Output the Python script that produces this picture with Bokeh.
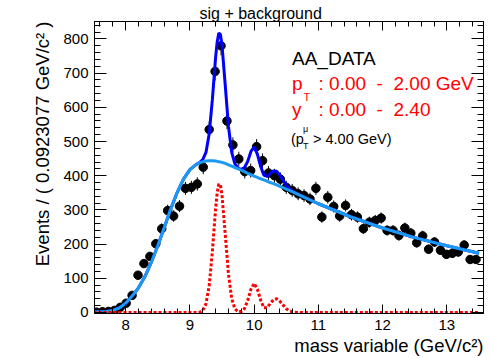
import math
from bokeh.plotting import figure
from bokeh.models import (Range1d, LinearAxis, SingleIntervalTicker, Label, ColumnDataSource,
                          CustomJSTickFormatter, Title)
from bokeh.embed import file_html
from bokeh.resources import INLINE

# ---------------- data ----------------
bin_low = 7.5
bin_width = 0.0923077
counts = [1, 2, 3, 6, 15, 27, 50, 109, 143, 164,
          201, 245, 298, 282, 311, 363, 366, 376, 425, 535,
          705, 780, 560, 490, 449, 412, 415, 485, 444, 408,
          400, 390, 366, 357, 347, 342, 332, 363, 279, 337,
          310, 282, 313, 286, 279, 245, 264, 269, 276, 240,
          240, 225, 247, 232, 204, 224, 185, 206, 182, 170,
          173, 177, 197, 155, 155]

curve_x = [7.5, 7.6, 7.7, 7.8, 7.9, 8.0, 8.1, 8.2, 8.3, 8.4, 8.5, 8.6, 8.7, 8.8, 8.9,
           9.0, 9.1, 9.15, 9.2, 9.25, 9.3, 9.35, 9.4, 9.425, 9.45, 9.475, 9.5, 9.55,
           9.6, 9.65, 9.7, 9.75, 9.8, 9.85, 9.9, 9.95, 10.0, 10.05, 10.1, 10.15, 10.2,
           10.25, 10.3, 10.35, 10.4, 10.45, 10.5, 10.55, 10.6, 10.7, 10.8, 11.0, 11.5,
           12.0, 12.5, 13.0, 13.5]
background = [1, 2, 3, 6, 13, 27, 48, 72, 105, 147, 195, 248, 302, 350, 390,
              418, 433, 438, 441, 443, 444, 444, 443, 442, 441, 440, 439, 436,
              432, 428, 424, 420, 416, 412, 407, 403, 399, 395, 391, 388, 384,
              380, 377, 373, 369, 365, 361, 357, 353, 344, 335, 318, 280,
              247, 219, 195, 173]
signal = [0, 0, 0, 0, 0, 0, 0, 0, 0, 0, 0, 0, 0, 0, 0,
          0, 0, 0.3, 6, 25, 78, 179, 303, 350, 376, 373, 342, 229,
          113, 41, 11, 2, 2.7, 11.5, 35, 68, 85, 68, 37, 14, 14,
          26, 37, 40, 33, 22, 11, 4.4, 1.4, 0, 0, 0, 0,
          0, 0, 0, 0]

x_ticks_major = 1
y_ticks_major = 100

# ---------------- layout ----------------
W, H = 493, 358
FL, FR, FT, FB = 94, 483, 21, 313
X0, X1 = 7.515, 13.57
Y0, Y1 = -3, 851


def dx(px):
    return X0 + (px - FL) * (X1 - X0) / (FR - FL)


def dy(py):
    return Y1 - (py - FT) * (Y1 - Y0) / (FB - FT)


FONT = "Liberation Sans"

p = figure(width=W, height=H, output_backend="svg", toolbar_location=None,
           x_range=Range1d(X0, X1), y_range=Range1d(Y0, Y1),
           min_border_left=FL, min_border_right=W - FR,
           min_border_top=FT, min_border_bottom=H - FB,
           background_fill_color="white", border_fill_color="white")
p.xgrid.visible = False
p.ygrid.visible = False
p.outline_line_color = "black"
p.outline_line_width = 1

p.title.text = "sig + background"
p.title.align = "left"
p.title.offset = 105
p.title.text_font = FONT
p.title.text_font_size = "16px"
p.title.text_font_style = "normal"
p.title.text_color = "black"
p.title.standoff = 0

xt = SingleIntervalTicker(interval=x_ticks_major, num_minor_ticks=5)
yt = SingleIntervalTicker(interval=y_ticks_major, num_minor_ticks=5)


def style_axis(ax, tin, tmin, show_labels):
    ax.axis_line_color = "black"
    ax.major_tick_line_color = "black"
    ax.minor_tick_line_color = "black"
    ax.major_tick_in = tin
    ax.major_tick_out = 0
    ax.minor_tick_in = tmin
    ax.minor_tick_out = 0
    ax.major_label_text_font = FONT
    ax.major_label_text_color = "black"
    if show_labels:
        ax.major_label_text_font_size = "15px"
        ax.major_label_standoff = 6
    else:
        ax.formatter = CustomJSTickFormatter(code="return ''")
        ax.major_label_text_font_size = "0px"
        ax.major_label_standoff = 0


p.xaxis.ticker = xt
p.yaxis.ticker = yt
style_axis(p.xaxis[0], 9, 5, True)
style_axis(p.yaxis[0], 12, 6, True)

top = LinearAxis(ticker=xt)
style_axis(top, 9, 5, False)
p.add_layout(top, "above")
right = LinearAxis(ticker=yt)
style_axis(right, 12, 6, False)
p.add_layout(right, "right")

# axis titles, right-aligned as in ROOT
x_title = Title(text="mass variable (GeV/c²)", align="right", text_font=FONT,
                text_font_size="18.5px", text_font_style="normal", text_color="black",
                standoff=1)
p.add_layout(x_title, "below")
y_title = Title(text="Events / ( 0.0923077 GeV/c² )", align="right", text_font=FONT,
                text_font_size="18.5px", text_font_style="normal", text_color="black",
                standoff=16)
p.add_layout(y_title, "left")

# ---------------- glyphs ----------------
centers = [bin_low + (i + 0.5) * bin_width for i in range(len(counts))]
err_lo = [c - math.sqrt(c) for c in counts]
err_hi = [c + math.sqrt(c) for c in counts]
data_src = ColumnDataSource(dict(x=centers, y=counts, lo=err_lo, hi=err_hi))
p.segment(x0="x", y0="lo", x1="x", y1="hi", source=data_src, line_color="black", line_width=1)
p.scatter(x="x", y="y", source=data_src, size=8.5, marker="circle",
          fill_color="black", line_color="black")

total = [b + s for b, s in zip(background, signal)]
p.line(curve_x, total, line_color="#0000ff", line_width=3)
p.line(curve_x, background, line_color="#1a9af2", line_width=3)
p.line(curve_x, signal, line_color="#ff0000", line_width=3, line_dash="3 2")

# ---------------- legend texts (inside the frame) ----------------


def lab(px, py, text, size, color="black", align="left"):
    p.add_layout(Label(x=dx(px), y=dy(py), text=text, text_font=FONT,
                       text_font_size=size, text_color=color, text_align=align,
                       text_baseline="alphabetic"))


lab(291.5, 58.3, "AA_DATA", "19px")
lab(291.5, 83.3, "p", "19px", color="#ff0000")
lab(303.0, 96.5, "T", "11px", color="#ff0000")
lab(318.0, 83.3, ": 0.00\u00a0\u00a0-\u00a0\u00a02.00 GeV", "19px", color="#ff0000")
lab(291.5, 109.3, "y", "19px", color="#ff0000")
lab(318.0, 109.3, ": 0.00\u00a0\u00a0-\u00a0\u00a02.40", "19px", color="#ff0000")
lab(290.5, 138.3, "(p", "14.5px")
lab(302.5, 128.5, "μ", "9px")
lab(302.5, 145.0, "T", "9px")
lab(312.5, 138.3, "> 4.00 GeV)", "14.5px")

open("out.html", "w").write(file_html(p, INLINE))
